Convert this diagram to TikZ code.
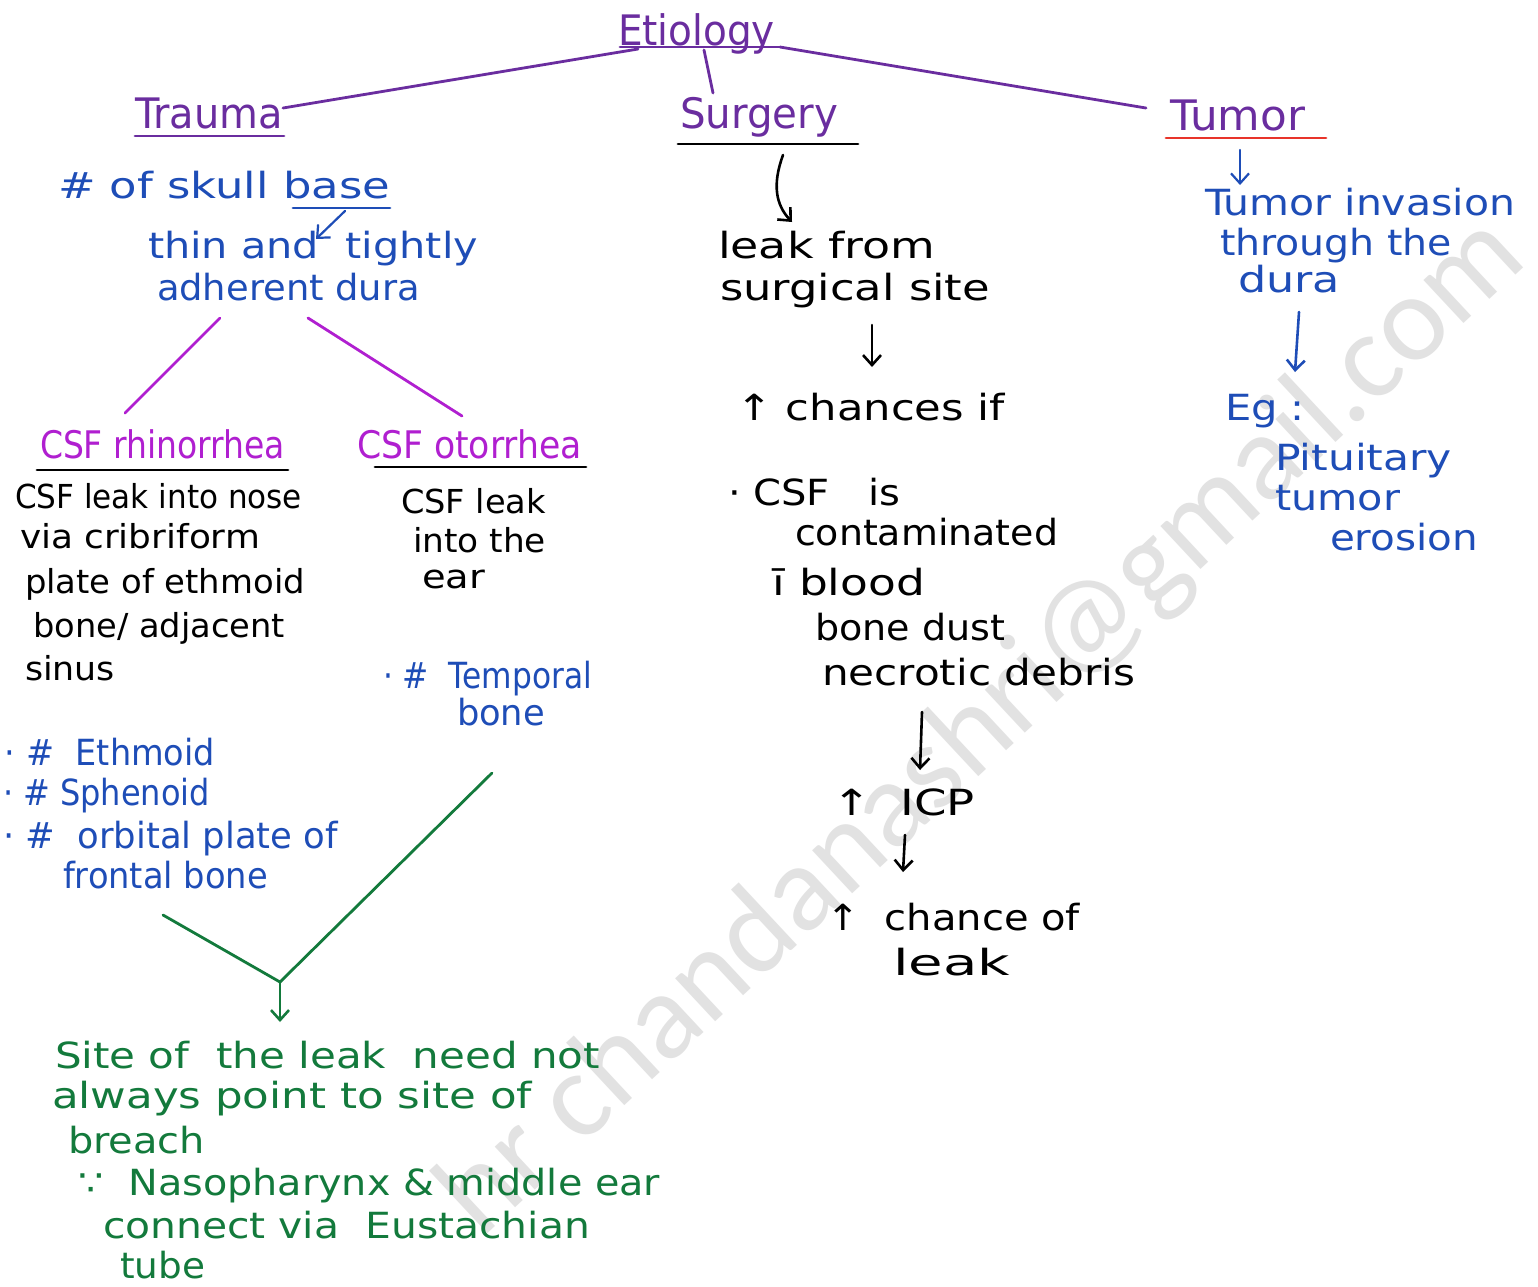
\documentclass[tikz,border=0pt]{standalone}
\usepackage{fontspec}
\setmainfont{DejaVu Sans}
\newfontfamily\wmfont{Carlito}
\usetikzlibrary{arrows.meta}
\definecolor{purp}{HTML}{6A2D9F}
\definecolor{mag}{HTML}{B01FD0}
\definecolor{blu}{HTML}{1E4DB7}
\definecolor{grn}{HTML}{137A3C}
\definecolor{redl}{HTML}{E8342A}
\definecolor{wm}{HTML}{E2E2E2}
\newcommand\fitw[2]{\resizebox{#1pt}{\height}{#2}}
\begin{document}
\begin{tikzpicture}[x=1pt,y=-1pt,
  ln/.style={anchor=base west, inner sep=0pt, outer sep=0pt},
  hd/.style={ln, text=purp, font=\fontsize{42}{46}\selectfont},
  bk/.style={ln, text=black, font=\fontsize{36}{40}\selectfont},
  bks/.style={ln, text=black, font=\fontsize{33}{37}\selectfont},
  bl/.style={ln, text=blu, font=\fontsize{36}{40}\selectfont},
  gr/.style={ln, text=grn, font=\fontsize{36}{40}\selectfont},
  mg/.style={ln, text=mag, font=\fontsize{38}{42}\selectfont},
  hwarrow/.style={-{Straight Barb[length=10pt,width=18pt]}, line width=2.6pt, line cap=round},
  stroke/.style={line width=2.8pt, line cap=round}
]
\useasboundingbox (0,0) rectangle (1538,1286);
\fill[white] (0,0) rectangle (1538,1286);

% watermark
\node[rotate=43, anchor=base east, inner sep=0pt, text=wm, font=\wmfont\fontsize{123}{130}\selectfont] (wmark) at (1530,262) {hr chandanashri@gmail.com};

% ---------- headers ----------
\node[hd] (etio) at (618,45) {\fitw{157}{Etiology}};
\node[hd] (trauma) at (135,128) {\fitw{148}{Trauma}};
\node[hd] (surgery) at (680,128) {\fitw{158}{Surgery}};
\node[hd] (tumor) at (1170,130) {\fitw{135}{Tumor}};

\coordinate (etl) at (620,47);
\coordinate (etr) at (780,47);
\coordinate (etleft) at (638,49);
\coordinate (trR) at (283,108);
\coordinate (tuL) at (1146,108);
\coordinate (tick1) at (704,50);
\coordinate (tick2) at (713,93);
\draw[purp, stroke] (etl) -- (etr);
\draw[purp, stroke] (etleft) -- (trR);
\draw[purp, stroke] (etr) -- (tuL);
\draw[purp, stroke] (tick1) -- (tick2);

\coordinate (trU1) at (135,136); \coordinate (trU2) at (284,136);
\draw[purp, stroke] (trU1) -- (trU2);
\coordinate (suU1) at (678,144); \coordinate (suU2) at (858,144);
\draw[black, stroke] (suU1) -- (suU2);
\coordinate (tuU1) at (1166,138); \coordinate (tuU2) at (1326,138);
\draw[redl, stroke] (tuU1) -- (tuU2);

% ---------- surgery branch ----------
\node[bk] (leak1) at (718,258) {\fitw{217}{leak from}};
\node[bk] (leak2) at (720,300) {\fitw{270}{surgical site}};
\coordinate (sa1) at (783,155);
\coordinate (sa2) at (792,222);
\draw[black, hwarrow] (sa1) .. controls (772,185) and (776,205) .. (sa2);
\coordinate (sb1) at (872,325); \coordinate (sb2) at (872,367);
\draw[black, hwarrow] (sb1) -- (sb2);
\node[bk] (chances) at (736,420) {\fitw{269}{↑ chances if}};
\node[bk] (csfis) at (728,505) {\fitw{172}{· CSF \ \ is}};
\node[bk] (contam) at (795,545) {\fitw{263}{contaminated}};
\node[bk] (blood) at (772,595) {\fitw{153}{ī blood}};
\node[bk] (bonedust) at (815,640) {\fitw{190}{bone dust}};
\node[bk] (necro) at (822,685) {\fitw{313}{necrotic debris}};
\coordinate (sc1) at (922,712); \coordinate (sc2) at (920,770);
\draw[black, hwarrow] (sc1) -- (sc2);
\node[bk] (icp) at (832,815) {\fitw{143}{↑ \ ICP}};
\coordinate (sd1) at (905,835); \coordinate (sd2) at (903,872);
\draw[black, hwarrow] (sd1) -- (sd2);
\node[bk] (chance) at (826,930) {\fitw{254}{↑ \ chance of}};
\node[bk] (leak3) at (893,975) {\fitw{117}{leak}};

% ---------- trauma branch ----------
\node[bl] (skull) at (58,198) {\fitw{332}{\# of skull base}};
\coordinate (bu1) at (293,208); \coordinate (bu2) at (390,208);
\draw[blu, stroke] (bu1) -- (bu2);
\coordinate (ba1) at (345,211); \coordinate (ba2) at (316,239);
\draw[blu, hwarrow, line width=2.2pt] (ba1) -- (ba2);
\node[bl] (thin) at (148,258) {\fitw{330}{thin and \ tightly}};
\node[bl] (adh) at (157,300) {\fitw{263}{adherent dura}};

\coordinate (m1a) at (220,318); \coordinate (m1b) at (125,413);
\coordinate (m2a) at (308,318); \coordinate (m2b) at (462,416);
\draw[mag, stroke] (m1a) -- (m1b);
\draw[mag, stroke] (m2a) -- (m2b);

\node[mg] (rhino) at (40,458) {\fitw{245}{CSF rhinorrhea}};
\node[mg] (oto) at (357,458) {\fitw{225}{CSF otorrhea}};
\coordinate (rU1) at (37,470); \coordinate (rU2) at (288,470);
\draw[black, stroke] (rU1) -- (rU2);
\coordinate (oU1) at (375,467); \coordinate (oU2) at (586,467);
\draw[black, stroke] (oU1) -- (oU2);

\node[bks] (r1) at (15,508) {\fitw{287}{CSF leak into nose}};
\node[bks] (r2) at (20,548) {\fitw{240}{via cribriform}};
\node[bks] (r3) at (25,593) {\fitw{280}{plate of ethmoid}};
\node[bks] (r4) at (33,637) {\fitw{252}{bone/ adjacent}};
\node[bks] (r5) at (25,680) {\fitw{90}{sinus}};

\node[bks] (o1) at (401,513) {\fitw{145}{CSF leak}};
\node[bks] (o2) at (413,552) {\fitw{133}{into the}};
\node[bks] (o3) at (422,588) {\fitw{63}{ear}};

\node[bl] (temp1) at (383,688) {\fitw{209}{· \# \ Temporal}};
\node[bl] (temp2) at (457,725) {\fitw{88}{bone}};

\node[bl] (f1) at (5,765) {\fitw{210}{· \# \ Ethmoid}};
\node[bl] (f2) at (3,805) {\fitw{207}{· \# Sphenoid}};
\node[bl] (f3) at (3,848) {\fitw{335}{· \# \ orbital plate of}};
\node[bl] (f4) at (63,888) {\fitw{205}{frontal bone}};

\coordinate (g1) at (163,915);
\coordinate (g2) at (492,773);
\coordinate (gj) at (280,982);
\coordinate (ge) at (280,1022);
\draw[grn, stroke] (g1) -- (gj) -- (g2);
\draw[grn, hwarrow] (gj) -- (ge);

\node[gr] (s1) at (55,1068) {\fitw{545}{Site of \ the leak \ need not}};
\node[gr] (s2) at (52,1108) {\fitw{480}{always point to site of}};
\node[gr] (s3) at (68,1153) {\fitw{137}{breach}};
\node[gr] (s4) at (78,1195) {\fitw{582}{∵ \ Nasopharynx \& middle ear}};
\node[gr] (s5) at (103,1238) {\fitw{487}{connect via \ Eustachian}};
\node[gr] (s6) at (120,1278) {\fitw{85}{tube}};

% ---------- tumor branch ----------
\coordinate (ta1) at (1240,150); \coordinate (ta2) at (1240,185);
\draw[blu, hwarrow, line width=2.2pt] (ta1) -- (ta2);
\node[bl] (t1) at (1205,215) {\fitw{310}{Tumor invasion}};
\node[bl] (t2) at (1220,255) {\fitw{232}{through the}};
\node[bl] (t3) at (1238,292) {\fitw{102}{dura}};
\coordinate (tb1) at (1299,312); \coordinate (tb2) at (1295,372);
\draw[blu, hwarrow] (tb1) -- (tb2);
\node[bl] (t4) at (1225,420) {\fitw{80}{Eg :}};
\node[bl] (t5) at (1275,470) {\fitw{177}{Pituitary}};
\node[bl] (t6) at (1275,510) {\fitw{125}{tumor}};
\node[bl] (t7) at (1330,550) {\fitw{148}{erosion}};
\end{tikzpicture}
\end{document}
